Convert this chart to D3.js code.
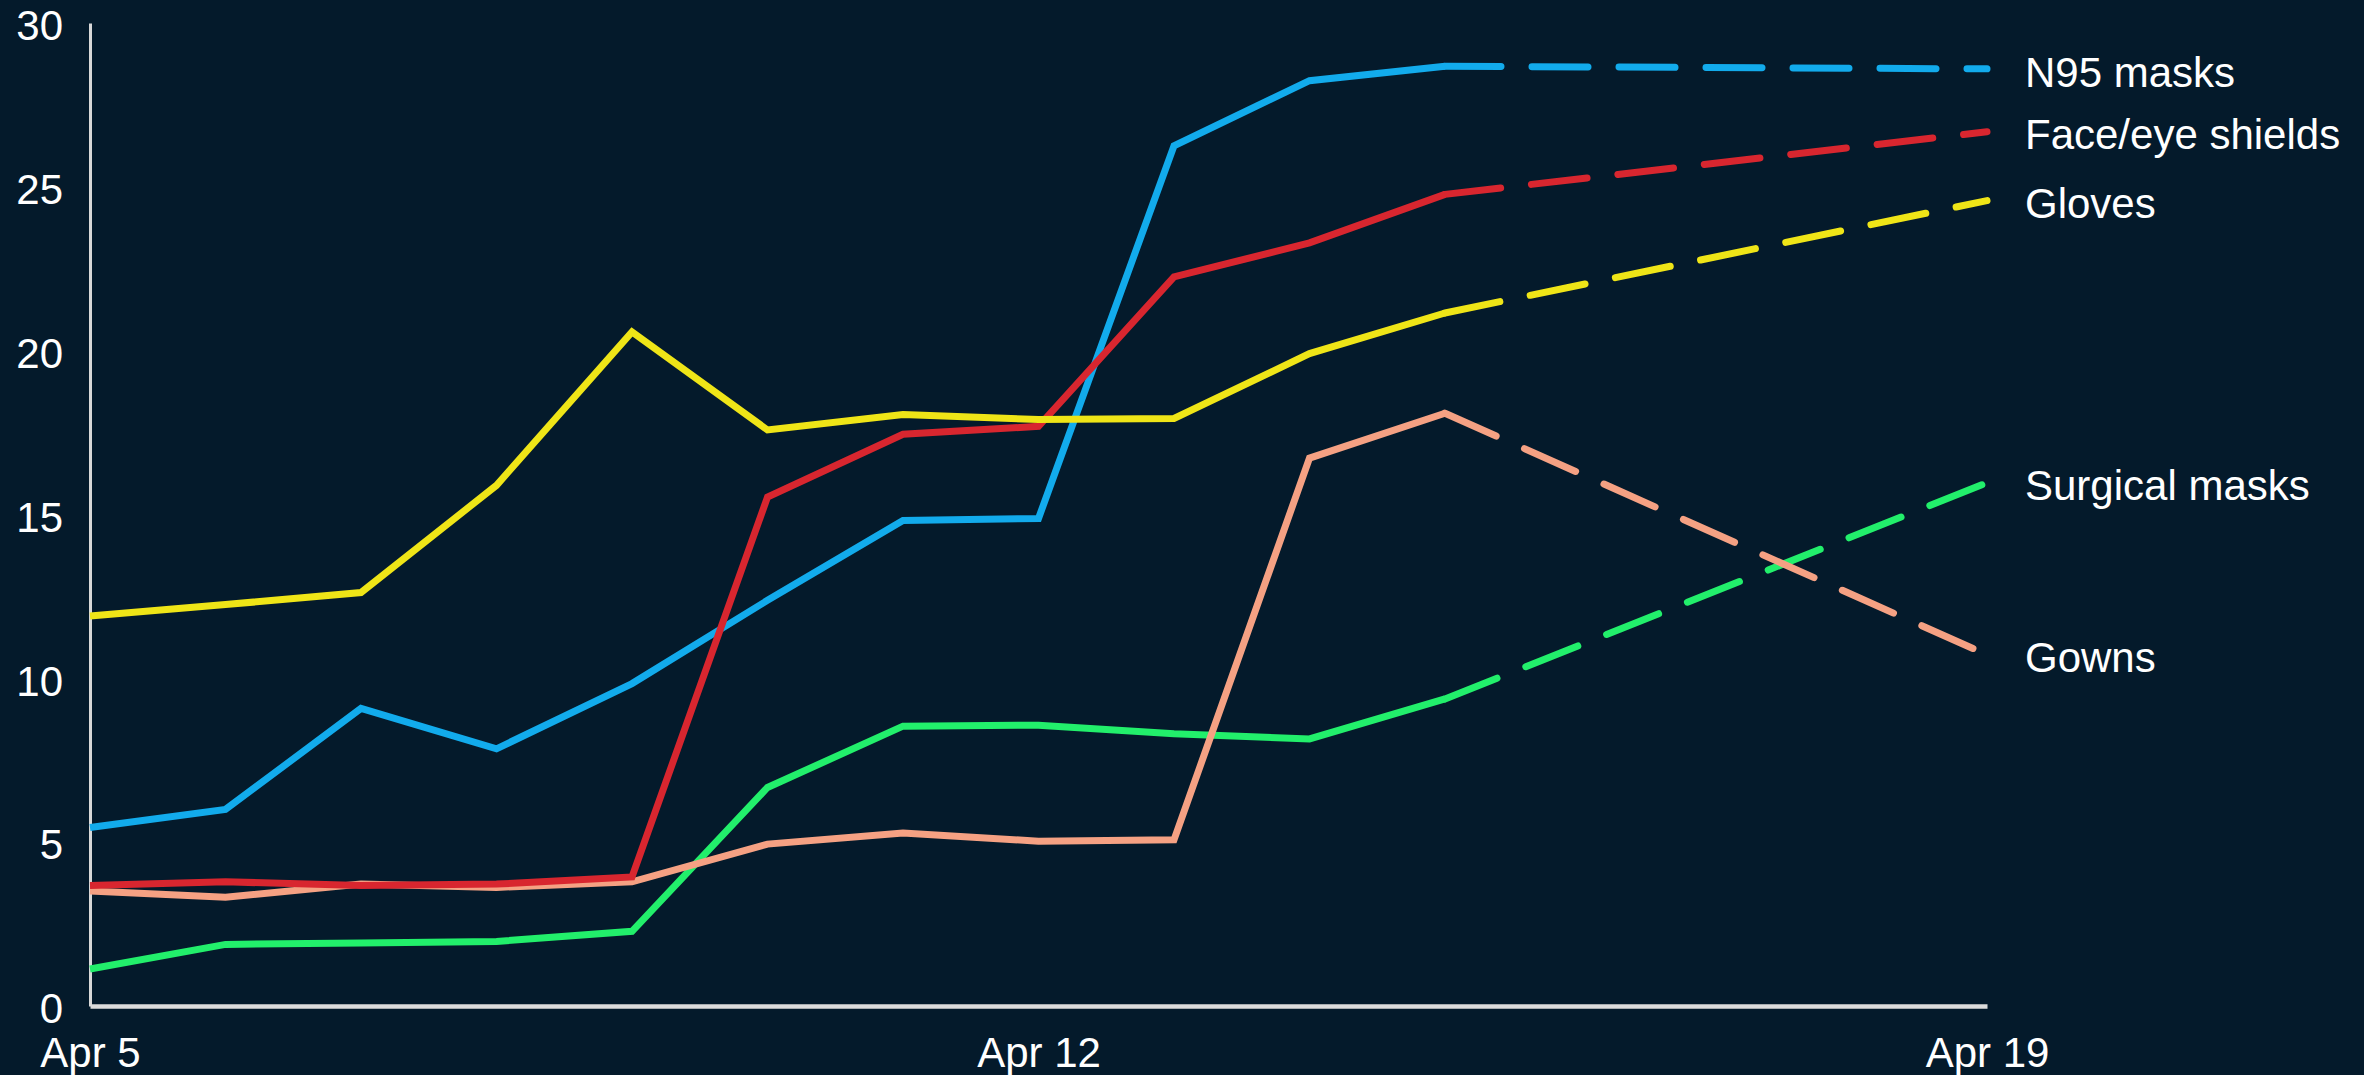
<!DOCTYPE html>
<html>
<head>
<meta charset="utf-8">
<script src="https://cdn.jsdelivr.net/npm/d3@7"></script>
<style>
  html, body { margin: 0; padding: 0; background: #041a2b; }
  svg { display: block; }
  text { font-family: "Liberation Sans", Arial, sans-serif; fill: #ffffff; }
</style>
</head>
<body>
<svg id="chart" width="2364" height="1075"></svg>
<script>
// ---- Data ----
const dates = ["2020-04-05","2020-04-06","2020-04-07","2020-04-08","2020-04-09","2020-04-10",
               "2020-04-11","2020-04-12","2020-04-13","2020-04-14","2020-04-15"];
const projectionDates = ["2020-04-15","2020-04-19"];
const xTickLabels = ["2020-04-05","2020-04-12","2020-04-19"];
const yTicks = [0, 5, 10, 15, 20, 25, 30];

const seriesNames = ["Surgical masks", "Gowns", "N95 masks", "Face/eye shields", "Gloves"];
const surgicalMasks = [1.13, 1.88, 1.92, 1.97, 2.28, 6.67, 8.54, 8.57, 8.31, 8.15, 9.37];
const gowns         = [3.51, 3.32, 3.72, 3.62, 3.79, 4.94, 5.28, 5.03, 5.07, 16.72, 18.09];
const n95Masks      = [5.45, 6.0, 9.08, 7.85, 9.84, 12.38, 14.82, 14.88, 26.25, 28.24, 28.68];
const faceShields   = [3.68, 3.79, 3.68, 3.72, 3.94, 15.53, 17.45, 17.69, 22.25, 23.29, 24.77];
const gloves        = [11.9, 12.25, 12.62, 15.89, 20.57, 17.58, 18.05, 17.9, 17.93, 19.91, 21.15];

const surgicalProj = [9.37, 15.97];
const gownsProj    = [18.09, 10.72];
const n95Proj      = [28.68, 28.6];
const faceProj     = [24.77, 26.68];
const glovesProj   = [21.15, 24.58];

const seriesValues = [surgicalMasks, gowns, n95Masks, faceShields, gloves];
const projValues = [surgicalProj, gownsProj, n95Proj, faceProj, glovesProj];
const seriesColors = ["#22ef6b", "#f5a183", "#12abec", "#d8262f", "#efe517"];

// ---- Layout ----
const W = 2364, H = 1075;
const margin = {left: 90, right: 377, top: 23, bottom: 69};
const parse = d3.utcParse("%Y-%m-%d");

const svg = d3.select("#chart");
svg.append("rect").attr("width", W).attr("height", H).attr("fill", "#041a2b");

const x = d3.scaleUtc()
  .domain([parse("2020-04-05"), parse("2020-04-19")])
  .range([margin.left, W - margin.right]);
const y = d3.scaleLinear()
  .domain([0, 30])
  .range([H - margin.bottom, margin.top]);

// Y axis
const yAxis = svg.append("g")
  .attr("transform", `translate(${margin.left},0)`)
  .call(d3.axisLeft(y).tickValues(yTicks).tickSize(0).tickPadding(27).tickFormat(d3.format("d")));
yAxis.select(".domain").attr("stroke", "#d8d8d8").attr("stroke-width", 3);
yAxis.selectAll("text")
  .attr("font-size", 42)
  .attr("fill", "#ffffff")
  .attr("dy", "0.4em");

// X axis
const xAxis = svg.append("g")
  .attr("transform", `translate(0,${H - margin.bottom})`)
  .call(d3.axisBottom(x).tickValues(xTickLabels.map(parse)).tickSize(0).tickPadding(31)
        .tickFormat(d3.utcFormat("%b %-d")));
xAxis.select(".domain").attr("stroke", "#dcdcdc").attr("stroke-width", 4.5);
xAxis.selectAll("text")
  .attr("font-size", 42)
  .attr("fill", "#ffffff");
svg.selectAll(".domain").attr("fill", "none");

// Lines
const line = d3.line()
  .x(d => x(d.date))
  .y(d => y(d.value));

const plot = svg.append("g");
seriesNames.forEach((name, i) => {
  const actual = dates.map((d, j) => ({date: parse(d), value: seriesValues[i][j]}));
  const proj = projectionDates.map((d, j) => ({date: parse(d), value: projValues[i][j]}));
  plot.append("path")
    .datum(proj)
    .attr("d", line)
    .attr("fill", "none")
    .attr("stroke", seriesColors[i])
    .attr("stroke-width", 7)
    .attr("stroke-linecap", "round")
    .attr("stroke-dasharray", "56,31");
  plot.append("path")
    .datum(actual)
    .attr("d", line)
    .attr("fill", "none")
    .attr("stroke", seriesColors[i])
    .attr("stroke-width", 7)
    .attr("stroke-linejoin", "miter")
    .attr("stroke-linecap", "butt");
});

// End labels
seriesNames.forEach((name, i) => {
  const v = projValues[i][projValues[i].length - 1];
  svg.append("text")
    .attr("x", x(parse(projectionDates[1])) + 38)
    .attr("y", y(v) + 3)
    .attr("dy", "0.35em")
    .attr("font-size", 42)
    .attr("fill", "#ffffff")
    .text(name);
});
</script>
</body>
</html>
